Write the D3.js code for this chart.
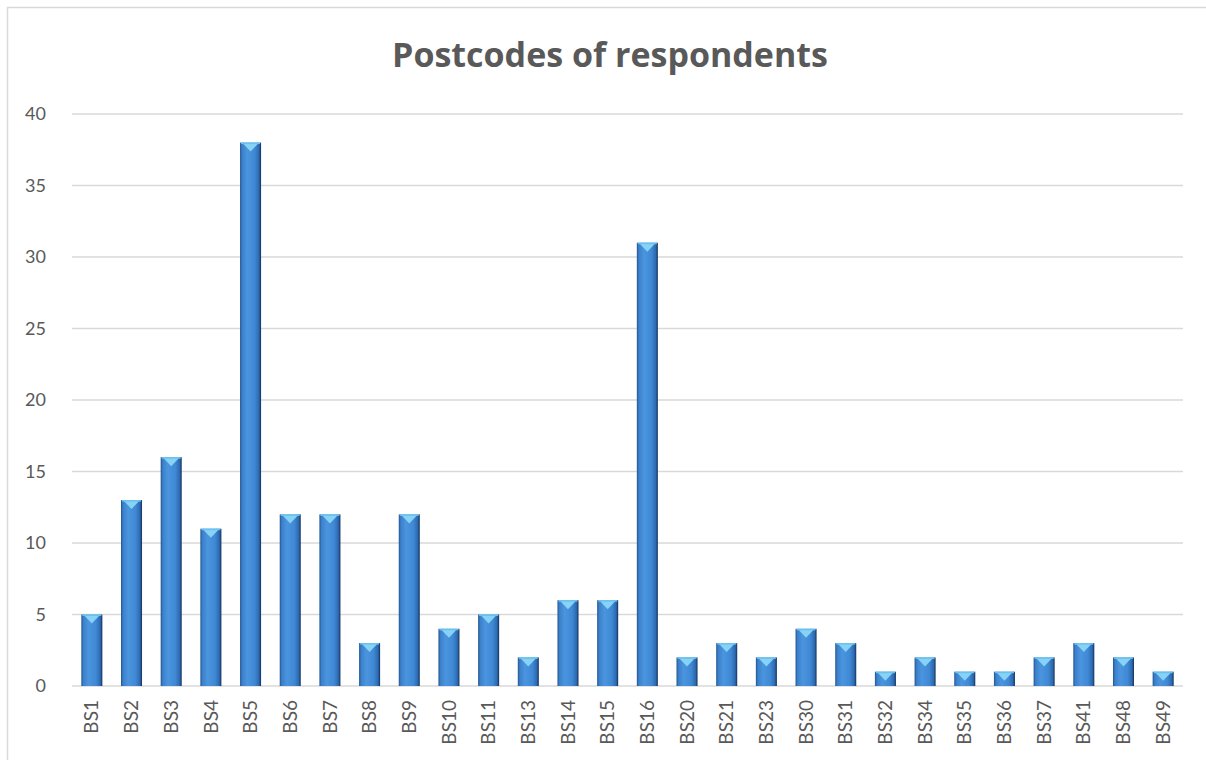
<!DOCTYPE html>
<html>
<head>
<meta charset="utf-8">
<script src="https://cdn.jsdelivr.net/npm/d3@7"></script>
<style>
body { margin:0; background:#fff; }
svg text { font-family: Lato, "Open Sans", sans-serif; }
</style>
</head>
<body>
<div id="chart"></div>
<script>
// postcodes and number of respondents
var codes = ["BS1","BS2","BS3","BS4","BS5","BS6","BS7","BS8","BS9","BS10","BS11","BS13","BS14","BS15","BS16",
             "BS20","BS21","BS23","BS30","BS31","BS32","BS34","BS35","BS36","BS37","BS41","BS48","BS49"];
var counts = [5,13,16,11,38,12,12,3,12,4,5,2,6,6,31,2,3,2,4,3,1,2,1,1,2,3,2,1];
var yTicks = [0,5,10,15,20,25,30,35,40];

var width = 1206, height = 760;
var plotLeft = 72, plotRight = 1183, plotTop = 114, plotBottom = 686;

var svg = d3.select("#chart").append("svg")
    .attr("width", width).attr("height", height);

var defs = svg.append("defs");
var grad = defs.append("linearGradient").attr("id","barGrad")
    .attr("x1","0%").attr("x2","100%").attr("y1","0%").attr("y2","0%");
grad.append("stop").attr("offset","0%").attr("stop-color","#23558f");
grad.append("stop").attr("offset","10%").attr("stop-color","#3c80cb");
grad.append("stop").attr("offset","35%").attr("stop-color","#4b95df");
grad.append("stop").attr("offset","70%").attr("stop-color","#3f88d4");
grad.append("stop").attr("offset","90%").attr("stop-color","#2d6ab0");
grad.append("stop").attr("offset","100%").attr("stop-color","#12305c");

// chart border
svg.append("rect").attr("x",7.5).attr("y",7.5).attr("width",1240).attr("height",800)
    .attr("fill","none").attr("stroke","#d9d9d9").attr("stroke-width",1.5);

var x = d3.scaleBand().domain(codes).range([plotLeft, plotRight]).paddingInner(0.47).paddingOuter(0.235);
var y = d3.scaleLinear().domain([0,40]).range([plotBottom, plotTop]);

// gridlines
svg.append("g").selectAll("line").data(yTicks).enter().append("line")
    .attr("x1", plotLeft).attr("x2", plotRight)
    .attr("y1", function(d){ return y(d); }).attr("y2", function(d){ return y(d); })
    .attr("stroke","#d9d9d9").attr("stroke-width",1.5);

// y labels
svg.append("g").selectAll("text").data(yTicks).enter().append("text")
    .attr("x", 46).attr("y", function(d){ return y(d); })
    .attr("dy","0.35em").attr("text-anchor","end")
    .attr("font-size","18px").attr("fill","#595959")
    .text(function(d){ return d; });

// bars
var bars = svg.append("g").selectAll("g").data(codes).enter().append("g");
bars.append("rect")
    .attr("x", function(d){ return x(d); })
    .attr("y", function(d,i){ return y(counts[i]); })
    .attr("width", x.bandwidth())
    .attr("height", function(d,i){ return y(0) - y(counts[i]); })
    .attr("fill","url(#barGrad)");
// top bevel
bars.append("path")
    .attr("d", function(d,i){
        var x0 = x(d), x1 = x(d) + x.bandwidth(), t = y(counts[i]), cx = x0 + x.bandwidth()/2;
        return "M"+(x0+2)+","+t+"L"+(x1-2)+","+t+"L"+cx+","+(t+9)+"Z";
    })
    .attr("fill","#86d3f6");
bars.append("rect")
    .attr("x", function(d){ return x(d)+1; })
    .attr("y", function(d,i){ return y(counts[i]); })
    .attr("width", x.bandwidth()-2).attr("height",1.5)
    .attr("fill","#6cc0ee");

// x labels
svg.append("g").selectAll("text").data(codes).enter().append("text")
    .attr("transform", function(d){ return "translate(" + (x(d)+x.bandwidth()/2) + ",700) rotate(-90)"; })
    .attr("dy","0.35em").attr("text-anchor","end")
    .attr("font-size","19px").attr("fill","#595959")
    .text(function(d){ return d; });

// title
svg.append("text").attr("x", 610).attr("y", 67).attr("text-anchor","middle")
    .attr("font-size","34px").attr("font-weight","bold").attr("fill","#595959")
    .style("font-family","'Open Sans', sans-serif")
    .text("Postcodes of respondents");
</script>
</body>
</html>
